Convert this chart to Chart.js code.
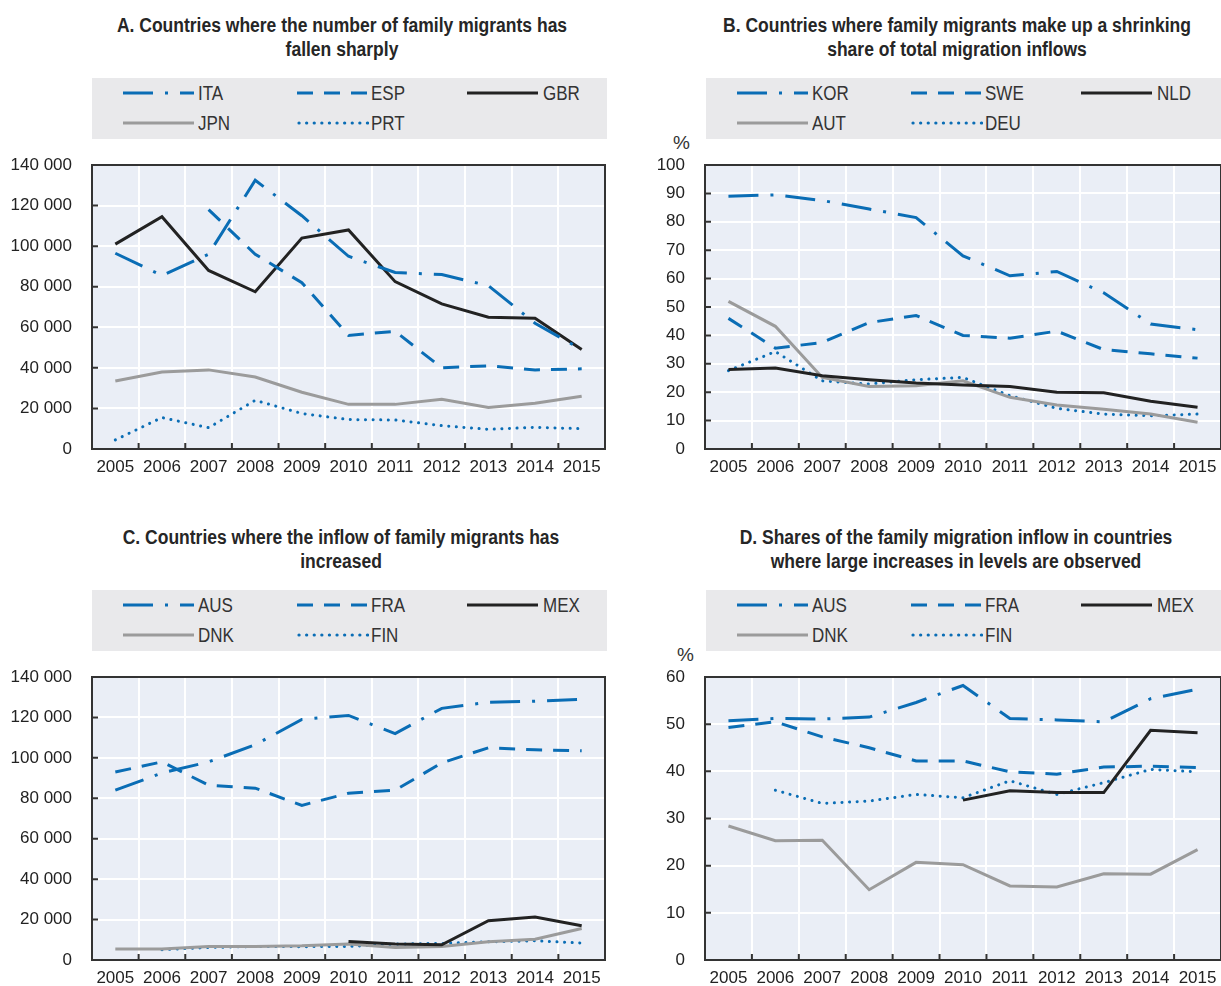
<!DOCTYPE html>
<html>
<head>
<meta charset="utf-8">
<script src="https://cdn.jsdelivr.net/npm/chart.js@4.4.1/dist/chart.umd.min.js"></script>
<style>
  body { margin: 0; width: 1221px; height: 986px; position: relative; overflow: hidden; background: #fff;
         font-family: 'Liberation Sans', Arial, sans-serif; color: #222; }
  .title { position: absolute; width: 600px; text-align: center; font-weight: bold; font-size: 20px; line-height: 24px;
           transform: scaleX(0.875); transform-origin: center top; color: #262626; }
  .legend { position: absolute; width: 515px; height: 61px; background: #e9e9eb; }
  .legend svg { position: absolute; }
  .legend span { position: absolute; font-size: 20px; line-height: 20px; color: #333;
                 transform: scaleX(0.85); transform-origin: left center; }
  .pct { position: absolute; font-size: 19px; color: #333; }
  canvas { position: absolute; }
</style>
</head>
<body>

<div class="title" style="left:42px; top:13px">A. Countries where the number of family migrants has<br>fallen sharply</div>
<div class="title" style="left:657px; top:13px">B. Countries where family migrants make up a shrinking<br>share of total migration inflows</div>
<div class="title" style="left:41px; top:525px">C. Countries where the inflow of family migrants has<br>increased</div>
<div class="title" style="left:656px; top:525px">D. Shares of the family migration inflow in countries<br>where large increases in levels are observed</div>

<div class="legend" id="legA" style="left:92px; top:78px"></div>
<div class="legend" id="legB" style="left:706px; top:78px"></div>
<div class="legend" id="legC" style="left:92px; top:590px"></div>
<div class="legend" id="legD" style="left:706px; top:590px"></div>

<div class="pct" style="left:673px; top:132px">%</div>
<div class="pct" style="left:677px; top:644px">%</div>

<canvas id="chartA" width="610" height="325" style="left:0px; top:150px"></canvas>
<canvas id="chartB" width="611" height="325" style="left:610px; top:150px"></canvas>
<canvas id="chartC" width="610" height="324" style="left:0px; top:662px"></canvas>
<canvas id="chartD" width="611" height="324" style="left:610px; top:662px"></canvas>

<script>
const years = ['2005', '2006', '2007', '2008', '2009', '2010', '2011', '2012', '2013', '2014', '2015'];

// A. number of family migrants, fallen sharply
const itaA = [96500, 85500, 96000, 132500, 115000, 95000, 87000, 86000, 80500, 62000, 49000];
const espA = [null, null, 118000, 96000, 82000, 56000, 58000, 40000, 41000, 39000, 39500];
const gbrA = [101000, 114500, 88000, 77500, 104000, 108000, 82500, 71500, 65000, 64500, 49000];
const jpnA = [33500, 38000, 39000, 35500, 28000, 22000, 22000, 24500, 20500, 22500, 26000];
const prtA = [4500, 15500, 10500, 24000, 17500, 14500, 14300, 11500, 9700, 10700, 10000];

// B. share of total inflows, %
const korB = [89, 89.5, 87.5, 84.5, 81.5, 68, 61, 62.5, 55, 44, 42];
const sweB = [46, 35.5, 37.5, 44.5, 47, 40, 39, 41.5, 35, 33.5, 32];
const nldB = [28, 28.5, 25.8, 24.4, 23.2, 22.5, 22, 20, 19.8, 16.8, 14.7];
const autB = [52, 43.2, 25.2, 22, 22.3, 24, 18.2, 15.5, 14, 12.3, 9.4];
const deuB = [27.6, 34.3, 24, 22.9, 24.4, 25.2, 18.8, 14.3, 12.3, 11.7, 12.3];

// C. inflow increased
const ausC = [84000, 92500, 98000, 106500, 119000, 121000, 112000, 124500, 127500, 128000, 129000];
const fraC = [93000, 98000, 86500, 85000, 76500, 82500, 84000, 97500, 105000, 104000, 103500];
const mexC = [null, null, null, null, null, 9200, 7900, 7500, 19400, 21300, 16900];
const dnkC = [5400, 5400, 6700, 6700, 7000, 7900, 6200, 6700, 9000, 10300, 15600];
const finC = [null, 5100, 6200, 6700, 6600, 6700, 7900, 8200, 9000, 9500, 8400];

// D. shares, %
const ausD = [50.7, 51.2, 51.1, 51.5, 54.6, 58.2, 51.2, 50.9, 50.5, 55.4, 57.4];
const fraD = [49.3, 50.5, 47.3, 45, 42.2, 42.2, 39.9, 39.4, 40.9, 41.1, 40.8];
const mexD = [null, null, null, null, null, 33.9, 35.9, 35.5, 35.5, 48.7, 48.2];
const dnkD = [28.4, 25.3, 25.4, 14.9, 20.7, 20.2, 15.7, 15.5, 18.3, 18.2, 23.4];
const finD = [null, 36, 33.2, 33.7, 35.1, 34.4, 38, 35.1, 37.6, 40.4, 39.9];

const FONT = "'Liberation Sans', Arial, sans-serif";
const blue = '#0a6db5';
const black = '#222222';
const grey = '#9b9b9b';

const styles = {
    dashdot: { color: blue, dash: [30, 12, 3, 12], cap: 'butt' },
    dashed:  { color: blue, dash: [16, 11], cap: 'butt' },
    solid:   { color: black, dash: [], cap: 'butt' },
    grey:    { color: grey, dash: [], cap: 'butt' },
    dotted:  { color: blue, dash: [0.1, 7.5], cap: 'round' }
};
const order = ['dashdot', 'dashed', 'solid', 'grey', 'dotted'];

// legend slots: [line x, text x, row y]
const slots = [[31, 106, 15], [205, 279, 15], [375, 451, 15], [31, 106, 45], [205, 279, 45]];

function buildLegend(id, names) {
    const box = document.getElementById(id);
    names.forEach((name, i) => {
        const st = styles[order[i]];
        const [lx, tx, ry] = slots[i];
        const svg = document.createElementNS('http://www.w3.org/2000/svg', 'svg');
        svg.setAttribute('width', 72);
        svg.setAttribute('height', 8);
        svg.style.left = lx + 'px';
        svg.style.top = (ry - 4) + 'px';
        const ln = document.createElementNS('http://www.w3.org/2000/svg', 'line');
        ln.setAttribute('x1', order[i] == 'dotted' ? 2 : 0);
        ln.setAttribute('x2', 71);
        ln.setAttribute('y1', 4);
        ln.setAttribute('y2', 4);
        ln.setAttribute('stroke', st.color);
        ln.setAttribute('stroke-width', 3.2);
        ln.setAttribute('stroke-linecap', st.cap);
        if (st.dash.length) ln.setAttribute('stroke-dasharray', st.dash.join(' '));
        svg.appendChild(ln);
        box.appendChild(svg);
        const sp = document.createElement('span');
        sp.textContent = name;
        sp.style.left = tx + 'px';
        sp.style.top = (ry - 10) + 'px';
        box.appendChild(sp);
    });
}

const plotFrame = {
    id: 'plotFrame',
    beforeDraw(chart) {
        const a = chart.chartArea, ctx = chart.ctx;
        ctx.save();
        ctx.fillStyle = '#eaeef6';
        ctx.fillRect(a.left, a.top, a.right - a.left, a.bottom - a.top);
        ctx.restore();
    },
    afterDraw(chart) {
        const a = chart.chartArea, ctx = chart.ctx;
        const xs = chart.scales.x, ys = chart.scales.y;
        ctx.save();
        ctx.strokeStyle = '#333';
        ctx.lineWidth = 2;
        ctx.strokeRect(a.left, a.top, a.right - a.left, a.bottom - a.top);
        ctx.beginPath();
        for (let i = 1; i < ys.ticks.length; i++) {
            const y = ys.getPixelForTick(i);
            ctx.moveTo(a.left, y);
            ctx.lineTo(a.left + 6, y);
        }
        for (let i = 0; i < xs.ticks.length - 1; i++) {
            const x = (xs.getPixelForTick(i) + xs.getPixelForTick(i + 1)) / 2;
            ctx.moveTo(x, a.bottom);
            ctx.lineTo(x, a.bottom - 6);
        }
        ctx.stroke();
        ctx.restore();
    }
};

function makeChart(id, names, series, yMax, yStep, yWidth, padRight, thousands) {
    const datasets = series.map((data, i) => {
        const st = styles[order[i]];
        return {
            label: names[i],
            data: data,
            borderColor: st.color,
            borderWidth: 3,
            borderDash: st.dash,
            borderCapStyle: st.cap,
            pointRadius: 0,
            tension: 0,
            spanGaps: false
        };
    });
    return new Chart(document.getElementById(id), {
        type: 'line',
        data: { labels: years, datasets: datasets },
        plugins: [plotFrame],
        options: {
            responsive: false,
            animation: false,
            layout: { padding: { top: 15, right: padRight, bottom: 0, left: 0 } },
            plugins: { legend: { display: false }, tooltip: { enabled: false } },
            scales: {
                x: {
                    type: 'category',
                    offset: true,
                    grid: { offset: true, color: '#ffffff', lineWidth: 2, drawTicks: false },
                    border: { display: false },
                    ticks: { color: '#222', font: { family: FONT, size: 17 }, padding: 8, maxRotation: 0, autoSkip: false },
                    afterFit(s) { s.height = 26; s.paddingLeft = 0; s.paddingRight = 0; }
                },
                y: {
                    min: 0,
                    max: yMax,
                    grid: { color: '#ffffff', lineWidth: 2, drawTicks: false },
                    border: { display: false },
                    ticks: {
                        stepSize: yStep,
                        color: '#222',
                        font: { family: FONT, size: 17 },
                        padding: 20,
                        callback: (v) => thousands ? String(v).replace(/\B(?=(\d{3})+(?!\d))/g, ' ') : v
                    },
                    afterFit(s) { s.width = yWidth; s.paddingTop = 0; s.paddingBottom = 0; }
                }
            }
        }
    });
}

const namesA = ['ITA', 'ESP', 'GBR', 'JPN', 'PRT'];
const namesB = ['KOR', 'SWE', 'NLD', 'AUT', 'DEU'];
const namesC = ['AUS', 'FRA', 'MEX', 'DNK', 'FIN'];
const namesD = ['AUS', 'FRA', 'MEX', 'DNK', 'FIN'];

buildLegend('legA', namesA);
buildLegend('legB', namesB);
buildLegend('legC', namesC);
buildLegend('legD', namesD);

makeChart('chartA', namesA, [itaA, espA, gbrA, jpnA, prtA], 140000, 20000, 92, 5, true);
makeChart('chartB', namesB, [korB, sweB, nldB, autB, deuB], 100, 10, 95, 0, false);
makeChart('chartC', namesC, [ausC, fraC, mexC, dnkC, finC], 140000, 20000, 92, 5, true);
makeChart('chartD', namesD, [ausD, fraD, mexD, dnkD, finD], 60, 10, 95, 0, false);
</script>
</body>
</html>
